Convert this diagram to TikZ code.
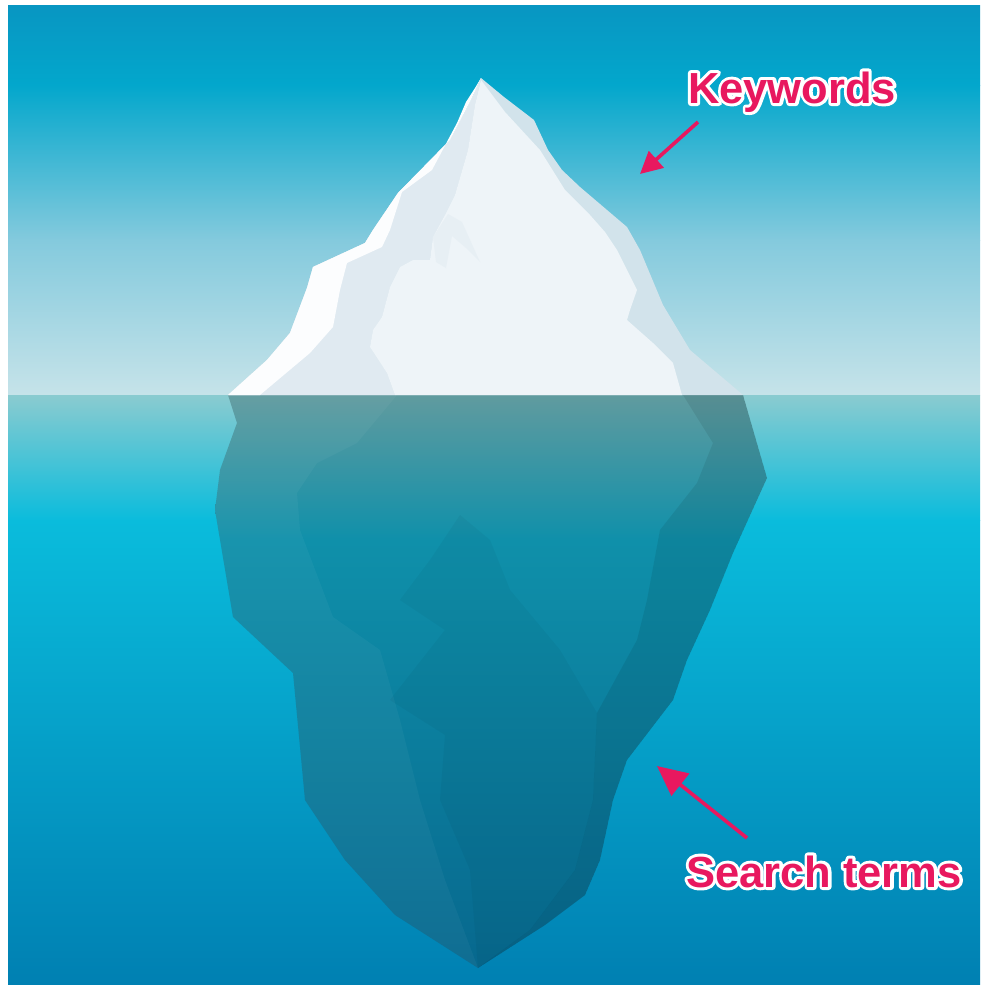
\documentclass[tikz,border=0pt]{standalone}
\usepackage{fontspec}
\setmainfont{Liberation Sans}
\usetikzlibrary{arrows.meta}

% palette
\definecolor{skyA}{HTML}{0896C2}
\definecolor{skyB}{HTML}{03A7CC}
\definecolor{skyC}{HTML}{84CADD}
\definecolor{skyD}{HTML}{C6E3E9}
\definecolor{seaA}{HTML}{8ACBD0}
\definecolor{seaB}{HTML}{0ABCDC}
\definecolor{seaC}{HTML}{0080B2}
\definecolor{subA}{HTML}{609B9F}
\definecolor{subB}{HTML}{0F90AA}
\definecolor{subC}{HTML}{07688E}
\definecolor{iceshade}{HTML}{D2E3EB}
\definecolor{icemid}{HTML}{E0EAF1}
\definecolor{icelit}{HTML}{FCFDFE}
\definecolor{iceface}{HTML}{EEF4F8}
\definecolor{icestreak}{HTML}{E3ECF2}
\definecolor{hotpink}{HTML}{E8185F}

% stroked (outline-only) text, used for the white halo behind the labels
\newcommand{\halotext}[1]{\special{pdf:literal direct 1 Tr 6 w 1 j}#1\special{pdf:literal direct 0 Tr}}

\tikzset{
  tag/.style={font=\bfseries\fontsize{43.5}{50}\selectfont, inner sep=0pt, anchor=base},
  pointer/.style={draw=hotpink, line width=3.6pt},
}

\begin{document}
\begin{tikzpicture}[x=1pt,y=-1pt]
\useasboundingbox (0,0) rectangle (980,985);
\fill[white] (0,0) rectangle (980,985);

% sky
\shade[top color=skyA, bottom color=skyB] (8,5) rectangle (980,85.5);
\shade[top color=skyB, bottom color=skyC] (8,85) rectangle (980,240.5);
\shade[top color=skyC, bottom color=skyD] (8,240) rectangle (980,395.5);

% sea
\shade[top color=seaA, bottom color=seaB] (8,395) rectangle (980,520.5);
\shade[top color=seaB, bottom color=seaC] (8,520) rectangle (980,985);

% submerged part of the iceberg
\begin{scope}
  \clip (228,395) -- (237,423) -- (220,470) -- (215,510) -- (233,617) -- (293,673)
    -- (300,747) -- (305,800) -- (345,860) -- (395,915) -- (478,968) -- (545,925)
    -- (585,895) -- (600,860) -- (613,800) -- (627,760) -- (673,700) -- (687,660)
    -- (710,610) -- (733,553) -- (757,500) -- (767,478) -- (743,395) -- cycle;
  \shade[top color=subA, bottom color=subB] (200,395) rectangle (790,540.5);
  \shade[top color=subB, bottom color=subC] (200,540) rectangle (790,970);
  % lighter left flank
  \fill[white, opacity=0.04] (228,395) -- (397,395) -- (357,443) -- (317,463)
    -- (297,493) -- (300,530) -- (333,617) -- (380,650) -- (400,720) -- (420,800)
    -- (445,880) -- (478,968) -- (395,915) -- (345,860) -- (305,800) -- (300,747)
    -- (293,673) -- (233,617) -- (215,510) -- (220,470) -- (237,423) -- cycle;
  % darker right flank
  \fill[black, opacity=0.08] (743,395) -- (683,395) -- (713,443) -- (697,483)
    -- (660,530) -- (647,600) -- (637,640) -- (597,713) -- (593,800) -- (575,870)
    -- (530,930) -- (478,968) -- (545,925) -- (585,895) -- (600,860) -- (613,800)
    -- (627,760) -- (673,700) -- (687,660) -- (710,610) -- (733,553) -- (757,500)
    -- (767,478) -- cycle;
  % darker core
  \fill[black, opacity=0.035] (460,515) -- (430,560) -- (400,600) -- (445,630)
    -- (390,700) -- (445,735) -- (440,800) -- (470,870) -- (478,968) -- (530,930)
    -- (575,870) -- (593,800) -- (597,713) -- (560,650) -- (510,590) -- (490,540) -- cycle;
\end{scope}

% visible part of the iceberg: shaded silhouette
\fill[iceshade] (228,395) -- (267,360) -- (290,333) -- (307,288) -- (313,267)
  -- (365,243) -- (373,230) -- (398,193) -- (450,140) -- (471,100) -- (481,78)
  -- (504,97) -- (534,120) -- (548,150) -- (562,170) -- (580,187) -- (627,227)
  -- (640,250) -- (663,305) -- (690,350) -- (743,395) -- cycle;
% mid-tone left face
\fill[icemid] (228,395) -- (267,360) -- (290,333) -- (307,288) -- (313,267)
  -- (365,243) -- (373,230) -- (398,193) -- (450,140) -- (471,100) -- (481,78)
  -- (475,105) -- (468,150) -- (455,195) -- (445,215) -- (433,237) -- (430,260)
  -- (413,260) -- (400,267) -- (390,287) -- (382,317) -- (373,330) -- (370,347)
  -- (387,373) -- (395,395) -- cycle;
% sunlit left rim
\fill[icelit] (228,395) -- (267,360) -- (290,333) -- (307,288) -- (313,267)
  -- (365,243) -- (373,230) -- (398,193) -- (450,140) -- (471,100) -- (481,78)
  -- (475,88) -- (466,102) -- (457,123) -- (432,170) -- (402,192) -- (390,230)
  -- (382,247) -- (347,263) -- (340,290) -- (333,327) -- (310,353) -- (260,395) -- cycle;
% main face
\fill[iceface] (481,80) -- (505,112) -- (540,150) -- (565,190) -- (590,215)
  -- (605,232) -- (617,250) -- (637,290) -- (630,310) -- (627,320) -- (653,343)
  -- (673,363) -- (682,395) -- (395,395) -- (387,373) -- (370,347) -- (373,330)
  -- (382,317) -- (390,287) -- (400,267) -- (413,260) -- (430,260) -- (433,237)
  -- (445,215) -- (455,195) -- (468,150) -- (475,105) -- cycle;
% faint ridge streaks on the face
\fill[icestreak, opacity=0.6] (433,237) -- (448,214) -- (462,222) -- (480,262) -- (466,248)
  -- (452,236) -- (446,268) -- (436,262) -- cycle;

% labels (white halo under the pink lettering) and pointers
\node[tag, text=white] (kwhalo) at (792,103) {\halotext{Keywords}};
\node[tag, text=hotpink] (kw) at (792,103) {Keywords};
\node[tag, text=white] (sthalo) at (824,887) {\halotext{Search terms}};
\node[tag, text=hotpink] (st) at (824,887) {Search terms};

\coordinate (kwtail) at (698,122);
\coordinate (kwtip) at (640,174);
\coordinate (sttail) at (747,838);
\coordinate (sttip) at (657,766);

\draw[pointer, -{Triangle[length=22pt,width=22pt]}] (kwtail) -- (kwtip);
\draw[pointer, -{Triangle[length=30pt,width=28pt]}] (sttail) -- (sttip);
\end{tikzpicture}
\end{document}
